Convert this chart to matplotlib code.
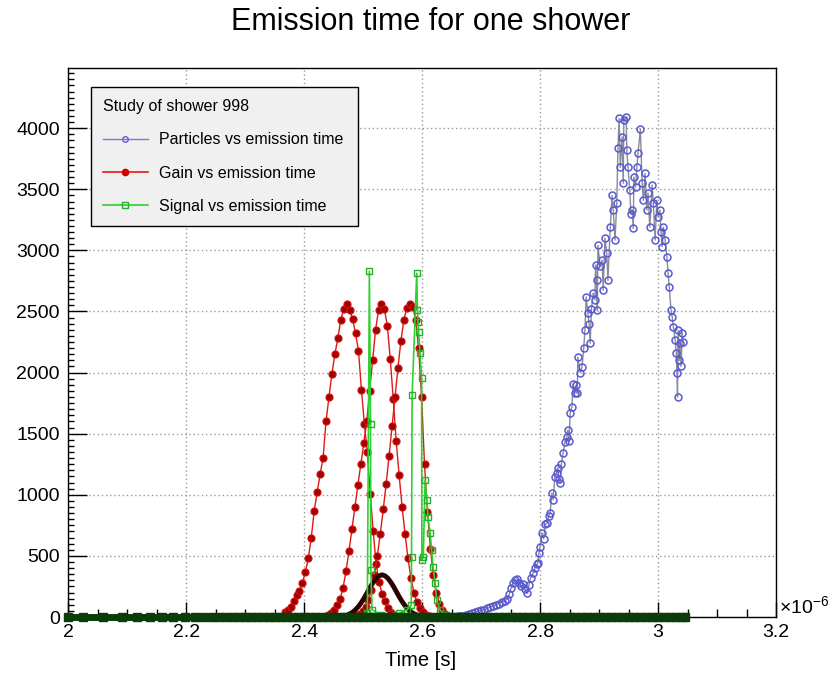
import matplotlib
matplotlib.use("Agg")
import matplotlib.pyplot as plt
from matplotlib.ticker import MultipleLocator, FuncFormatter
from matplotlib.lines import Line2D

plt.rcParams['font.family'] = ['Liberation Sans', 'DejaVu Sans']
plt.rcParams['mathtext.fontset'] = 'custom'
plt.rcParams['mathtext.rm'] = 'Liberation Sans'

# ---------------- data (time in units of 1e-6 s) ----------------
particles_t = [2.655, 2.660, 2.665, 2.670, 2.675, 2.680, 2.685, 2.690, 2.695, 2.700,
               2.705, 2.710, 2.715, 2.720, 2.725, 2.730, 2.735, 2.740, 2.744, 2.748,
               2.751, 2.754, 2.757, 2.761, 2.764, 2.768, 2.771, 2.774, 2.778, 2.781,
               2.784, 2.788, 2.791, 2.794, 2.796, 2.798, 2.800, 2.803, 2.806, 2.809,
               2.812, 2.815, 2.817, 2.820, 2.822, 2.825, 2.828, 2.830, 2.832, 2.834,
               2.836, 2.839, 2.842, 2.845, 2.847, 2.849, 2.851, 2.854, 2.856, 2.859,
               2.861, 2.863, 2.864, 2.868, 2.871, 2.874, 2.876, 2.878, 2.881, 2.883,
               2.885, 2.887, 2.890, 2.893, 2.894, 2.896, 2.897, 2.898, 2.902, 2.905,
               2.907, 2.910, 2.913, 2.915, 2.919, 2.922, 2.924, 2.927, 2.930, 2.932,
               2.934, 2.936, 2.939, 2.941, 2.942, 2.946, 2.947, 2.949, 2.952, 2.954,
               2.956, 2.958, 2.959, 2.962, 2.964, 2.966, 2.970, 2.973, 2.975, 2.978,
               2.981, 2.983, 2.986, 2.990, 2.992, 2.995, 2.998, 3.000, 3.003, 3.005,
               3.007, 3.009, 3.012, 3.015, 3.017, 3.019, 3.022, 3.024, 3.026, 3.029,
               3.031, 3.032, 3.033, 3.034, 3.036, 3.037, 3.039, 3.041, 3.042]
particles_y = [0, 5, 8, 12, 18, 25, 30, 40, 50, 60,
               55, 70, 80, 90, 100, 110, 120, 135, 150, 190,
               240, 280, 300, 310, 280, 250, 270, 230, 195, 260,
               320, 360, 400, 430, 440, 520, 575, 690, 640, 760,
               770, 830, 850, 1015, 960, 1145, 1180, 1220, 1130, 1095,
               1250, 1340, 1430, 1470, 1530, 1440, 1670, 1720, 1910, 1830,
               1900, 1830, 2125, 2000, 2045, 2200, 2345, 2620, 2485, 2400,
               2240, 2520, 2650, 2595, 2880, 2755, 2510, 3040, 2870, 2920,
               2675, 3100, 2975, 2755, 3190, 3450, 3330, 3085, 3385, 3835,
               4080, 3680, 3930, 3550, 4065, 4090, 3820, 3680, 3495, 3300,
               3330, 3180, 3600, 3520, 3680, 3795, 3990, 3550, 3410, 3630,
               3330, 3470, 3190, 3535, 3385, 3085, 3410, 3275, 3330, 3150,
               3030, 3190, 3085, 2945, 2815, 2700, 2510, 2455, 2370, 2265,
               2160, 2000, 1800, 2345, 2100, 2240, 2050, 2320, 2250]

gain1_t = [2.367, 2.372, 2.377, 2.382, 2.387, 2.392, 2.397, 2.402, 2.407, 2.412,
           2.417, 2.422, 2.427, 2.432, 2.437, 2.442, 2.447, 2.452, 2.457, 2.462,
           2.467, 2.472, 2.477, 2.482, 2.487, 2.492, 2.497, 2.502, 2.507, 2.512,
           2.517, 2.522, 2.527, 2.532, 2.537, 2.542, 2.547, 2.552, 2.562]
gain1_y = [40, 60, 85, 130, 180, 210, 280, 370, 480, 650,
           870, 1020, 1170, 1300, 1600, 1800, 1990, 2150, 2280, 2430,
           2520, 2560, 2510, 2440, 2320, 2180, 1860, 1580, 1350, 1010,
           700, 430, 290, 190, 130, 70, 35, 15, 5]

gain2_t = [2.441, 2.446, 2.451, 2.456, 2.461, 2.466, 2.471, 2.476, 2.481, 2.486,
           2.491, 2.496, 2.501, 2.506, 2.511, 2.516, 2.521, 2.526, 2.531, 2.536,
           2.541, 2.546, 2.551, 2.556, 2.561, 2.566, 2.571, 2.576, 2.581, 2.586,
           2.591, 2.596, 2.601, 2.606, 2.611]
gain2_y = [20, 35, 60, 95, 150, 240, 380, 540, 720, 900,
           1080, 1250, 1420, 1600, 1850, 2100, 2350, 2510, 2560, 2520,
           2380, 2110, 1780, 1440, 1160, 900, 680, 480, 320, 200,
           120, 70, 40, 20, 8]

gain3_t = [2.489, 2.494, 2.499, 2.504, 2.509, 2.514, 2.519, 2.524, 2.529, 2.534,
           2.539, 2.544, 2.549, 2.554, 2.559, 2.564, 2.569, 2.574, 2.579, 2.584,
           2.589, 2.594, 2.599, 2.604, 2.609, 2.614, 2.619, 2.624, 2.629, 2.634,
           2.639, 2.644]
gain3_y = [15, 28, 50, 85, 140, 220, 340, 500, 680, 880,
           1090, 1320, 1560, 1800, 2040, 2260, 2430, 2530, 2560, 2540,
           2430, 2200, 1800, 1250, 860, 560, 340, 200, 110, 55,
           25, 10]

sum_t = [2.452, 2.462, 2.472, 2.477, 2.482, 2.487, 2.492, 2.497, 2.502, 2.507,
         2.512, 2.517, 2.522, 2.527, 2.532, 2.537, 2.542, 2.547, 2.552, 2.557,
         2.562, 2.567, 2.572, 2.577, 2.582, 2.587, 2.592, 2.602, 2.612]
sum_y = [1, 5, 15, 25, 39, 60, 86, 119, 158, 201,
         245, 284, 316, 337, 345, 337, 316, 284, 245, 201,
         158, 119, 86, 60, 39, 25, 15, 5, 1]

signal_t = [2.450, 2.480, 2.500, 2.507, 2.5105, 2.5125, 2.5130, 2.515, 2.530, 2.560,
            2.575, 2.5815, 2.5820, 2.5830, 2.5908, 2.5920, 2.5930, 2.5940, 2.5964, 2.5990,
            2.5995, 2.6020, 2.6049, 2.6078, 2.6100, 2.6134, 2.6162, 2.6185, 2.6219, 2.6247,
            2.6303, 2.640, 2.660]
signal_y = [0, 2, 5, 30, 2830, 1580, 385, 60, 20, 30,
            60, 100, 493, 1816, 2813, 2511, 2416, 2330, 2160, 1955,
            466, 490, 1120, 957, 820, 687, 548, 409, 278, 139,
            57, 15, 0]

base_t = [2.000, 2.025, 2.059, 2.091, 2.117, 2.139, 2.159, 2.178, 2.198, 2.215,
          2.229, 2.243, 2.256, 2.268, 2.279, 2.290, 2.300, 2.310, 2.320, 2.330,
          2.340, 2.350, 2.360, 2.370, 2.380, 2.390, 2.400, 2.410, 2.420, 2.430,
          2.440, 2.450, 2.460, 2.470, 2.480, 2.490, 2.500, 2.510, 2.520, 2.530,
          2.540, 2.550, 2.560, 2.570, 2.580, 2.590, 2.600, 2.610, 2.620, 2.630,
          2.640, 2.650, 2.660, 2.670, 2.680, 2.690, 2.700, 2.710, 2.720, 2.730,
          2.740, 2.750, 2.760, 2.770, 2.780, 2.790, 2.800, 2.810, 2.820, 2.830,
          2.840, 2.850, 2.860, 2.870, 2.880, 2.890, 2.900, 2.910, 2.920, 2.930,
          2.940, 2.950, 2.960, 2.970, 2.980, 2.990, 3.000, 3.010, 3.020, 3.030,
          3.040, 3.045]
base_y = [0] * len(base_t)

legend_title = "Study of shower 998"
legend_labels = ["Particles vs emission time", "Gain vs emission time",
                 "Signal vs emission time"]
title = "Emission time for one shower"
x_ticks = [2.0, 2.2, 2.4, 2.6, 2.8, 3.0, 3.2]
y_ticks = [0, 500, 1000, 1500, 2000, 2500, 3000, 3500, 4000]

# ---------------- figure ----------------
W, H = 831, 677
fig = plt.figure(figsize=(W / 100, H / 100), dpi=100)
L, R, T, B = 68.3, 776.0, 68.3, 617.0
ax = fig.add_axes([L / W, 1 - B / H, (R - L) / W, (B - T) / H])
ax.set_xlim(2.0, 3.2)
ax.set_ylim(0, 4490)

ax.grid(True, which='major', color='#999999', linestyle=(0, (1, 2)), linewidth=1.0)
ax.set_axisbelow(True)

red_line = '#e01818'
red_face = '#a00000'
for gt, gy in [(gain1_t, gain1_y), (gain2_t, gain2_y), (gain3_t, gain3_y)]:
    ax.plot(gt, gy, color=red_line, lw=1.0, marker='o', ms=5,
            mfc=red_face, mec='#d01010', mew=0.9, zorder=3)

ax.plot(particles_t, particles_y, color='#8a8a9a', lw=1.0, marker='o', ms=5,
        mfc='none', mec='#5a5ad0', mew=1.1, zorder=3)

ax.plot(sum_t, sum_y, color='#2a0404', lw=3.5, zorder=4)

ax.plot(signal_t, signal_y, color='#30d030', lw=1.2, marker='s', ms=4.8,
        mfc='none', mec='#28b028', mew=1.0, zorder=5)

ax.plot(base_t, base_y, color='#0b3d0b', lw=5, marker='s', ms=6,
        mfc='#0b3d0b', mec='#0b3d0b', zorder=6, clip_on=False)

# ticks
ax.set_xticks(x_ticks)
ax.set_yticks(y_ticks)
ax.xaxis.set_minor_locator(MultipleLocator(0.05))
ax.yaxis.set_minor_locator(MultipleLocator(50))
ax.xaxis.set_major_formatter(FuncFormatter(lambda v, p: ('%g' % round(v, 3))))
ax.yaxis.set_major_formatter(FuncFormatter(lambda v, p: '%d' % v))
ax.tick_params(axis='x', which='major', direction='in', length=11, width=1,
               labelsize=14, pad=5, top=False)
ax.tick_params(axis='x', which='minor', direction='in', length=5.5, width=1, top=False)
ax.tick_params(axis='y', which='major', direction='in', length=14, width=1,
               labelsize=14, pad=6, right=False)
ax.tick_params(axis='y', which='minor', direction='in', length=4.5, width=1, right=False)
for s in ax.spines.values():
    s.set_linewidth(1.0)
    s.set_color('black')

fig.text(431 / W, 1 - 22 / H, title, ha='center', va='center', fontsize=22)
fig.text(421 / W, 1 - 661 / H, "Time [s]", ha='center', va='center', fontsize=14.5)
fig.text(779 / W, 1 - 607 / H, r"$\times10^{-6}$", ha='left', va='center', fontsize=14)

handles = [
    Line2D([], [], color='#7b7bd6', lw=1.0, marker='o', ms=4, mfc='none', mec='#6060d0'),
    Line2D([], [], color='#e01818', lw=1.2, marker='o', ms=4.5, mfc='#d00000', mec='#d00000'),
    Line2D([], [], color='#30d030', lw=1.2, marker='s', ms=4, mfc='none', mec='#28b028'),
]
lx0 = (91 - L) / (R - L)
lx1 = (358 - L) / (R - L)
ly0 = (B - 224) / (B - T)
ly1 = (B - 87) / (B - T)
leg = ax.legend(handles, legend_labels, title=legend_title, loc='upper left',
                bbox_to_anchor=(lx0, ly0, lx1 - lx0, ly1 - ly0), mode='expand',
                borderaxespad=0,
                fontsize=11.5, title_fontsize=11.5, frameon=True, fancybox=False,
                edgecolor='black', facecolor='#f0f0f0', framealpha=1,
                handlelength=2.8, handletextpad=0.7, labelspacing=1.15,
                borderpad=0.75, alignment='left')
leg.get_frame().set_linewidth(1.0)
leg.set_zorder(10)

fig.savefig('out.png', dpi=100, facecolor='white')
